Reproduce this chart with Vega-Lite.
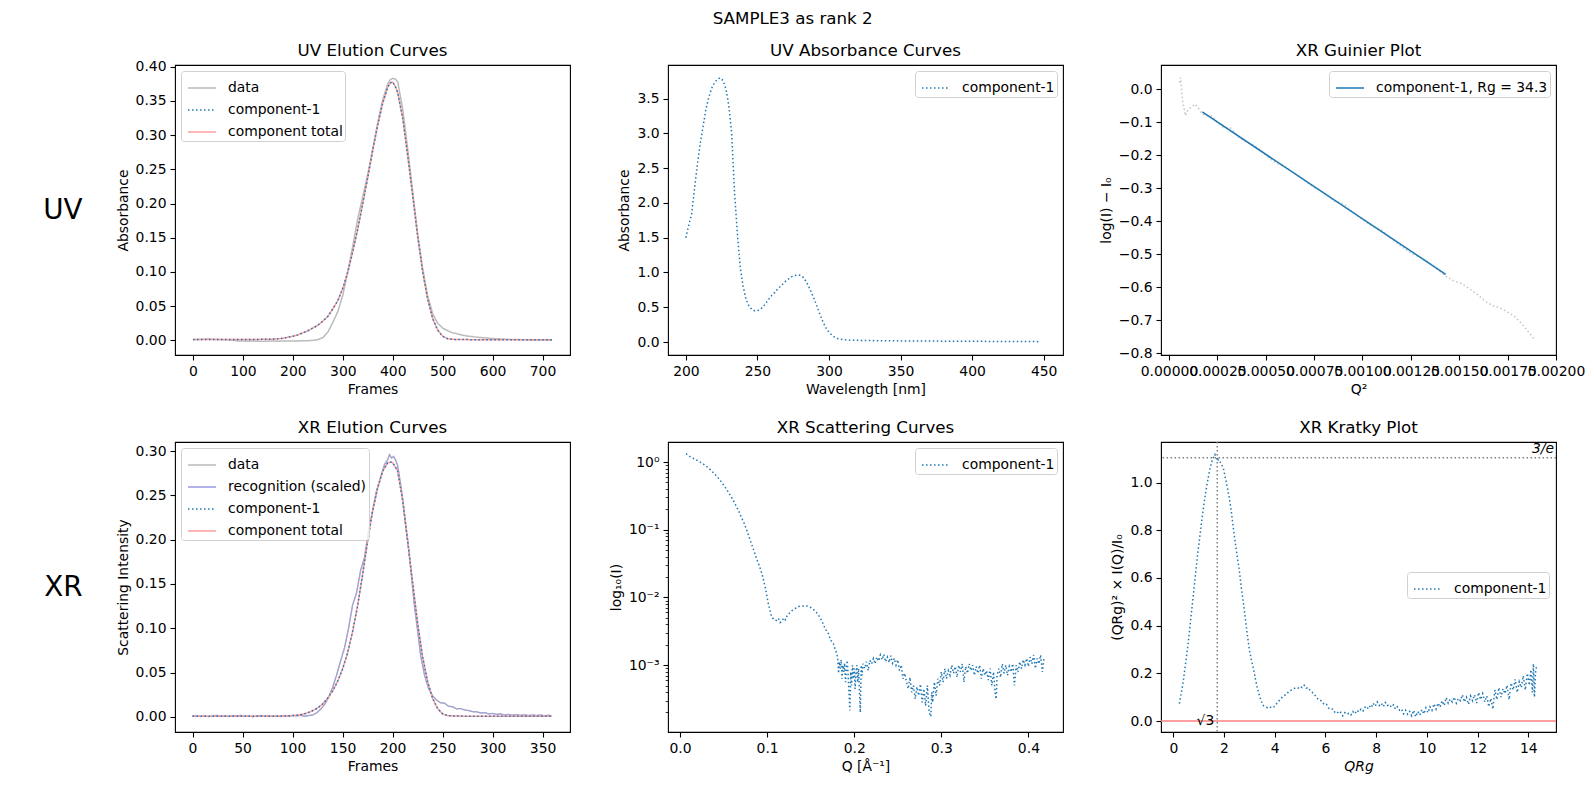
{
"$schema": "https://vega.github.io/schema/vega-lite/v6.json",
"padding": {"left": 42, "top": 10, "right": 5, "bottom": 5},
"title": {"text": "SAMPLE3 as rank 2", "offset": 15, "dx": -21, "anchor": "middle"},
"config": {
  "font": "DejaVu Sans",
  "view": {"stroke": "#000", "strokeWidth": 1.1},
  "axis": {"domain": false, "grid": false, "labelFont": "DejaVu Sans", "labelFontSize": 13.9, "labelColor": "#000", "tickColor": "#000", "tickSize": 5, "tickWidth": 1.1, "labelPadding": 4, "labelFlush": false, "labelOverlap": false, "titleFont": "DejaVu Sans", "titleFontSize": 13.9, "titleFontWeight": "normal", "titleColor": "#000", "titlePadding": 5},
  "legend": {"labelFont": "DejaVu Sans", "labelFontSize": 13.9, "labelColor": "#000", "labelLimit": 400, "strokeColor": "#d0d0d0", "fillColor": "rgba(255,255,255,0.8)", "padding": 2, "cornerRadius": 3, "offset": 6, "symbolType": "stroke", "symbolSize": 784, "symbolStrokeWidth": 1.5, "symbolOffset": 4, "labelOffset": 11, "rowPadding": -1.5},
  "title": {"font": "DejaVu Sans", "fontSize": 16.7, "fontWeight": "normal", "color": "#000"}
},
"datasets": {
  "uv_el": [
    {"f":0,"d":0.001,"c":0.0012,"t":0.0012},{"f":10,"d":0.0012,"c":0.0012,"t":0.0012},{"f":20,"d":0.0015,"c":0.0012,"t":0.0012},{"f":30,"d":0.002,"c":0.0012,"t":0.0012},{"f":40,"d":0.0015,"c":0.0012,"t":0.0012},{"f":50,"d":0.0012,"c":0.0012,"t":0.0012},{"f":60,"d":0.001,"c":0.0012,"t":0.0012},{"f":70,"d":0.0008,"c":0.0012,"t":0.0012},{"f":80,"d":0.0,"c":0.0012,"t":0.0012},{"f":90,"d":-0.0008,"c":0.0012,"t":0.0012},{"f":100,"d":-0.001,"c":0.0012,"t":0.0012},{"f":110,"d":-0.0012,"c":0.0013,"t":0.0013},{"f":120,"d":-0.001,"c":0.0013,"t":0.0013},{"f":130,"d":-0.0013,"c":0.0014,"t":0.0014},{"f":140,"d":-0.0015,"c":0.0015,"t":0.0015},{"f":150,"d":-0.0012,"c":0.0016,"t":0.0016},{"f":160,"d":-0.001,"c":0.0018,"t":0.0018},{"f":170,"d":-0.0012,"c":0.0022,"t":0.0022},{"f":180,"d":-0.0008,"c":0.003,"t":0.003},{"f":190,"d":-0.001,"c":0.0045,"t":0.0045},{"f":200,"d":-0.0008,"c":0.006,"t":0.006},{"f":210,"d":-0.001,"c":0.008,"t":0.008},{"f":220,"d":-0.0005,"c":0.011,"t":0.011},{"f":230,"d":-0.0005,"c":0.014,"t":0.014},{"f":240,"d":0.0,"c":0.018,"t":0.018},{"f":250,"d":0.001,"c":0.022,"t":0.022},{"f":260,"d":0.004,"c":0.028,"t":0.028},{"f":270,"d":0.012,"c":0.035,"t":0.035},{"f":280,"d":0.026,"c":0.046,"t":0.046},{"f":290,"d":0.042,"c":0.058,"t":0.058},{"f":300,"d":0.066,"c":0.076,"t":0.076},{"f":310,"d":0.1,"c":0.1,"t":0.1},{"f":320,"d":0.138,"c":0.13,"t":0.13},{"f":330,"d":0.178,"c":0.163,"t":0.163},{"f":340,"d":0.21,"c":0.2,"t":0.2},{"f":350,"d":0.243,"c":0.238,"t":0.238},{"f":360,"d":0.28,"c":0.278,"t":0.278},{"f":370,"d":0.318,"c":0.315,"t":0.315},{"f":380,"d":0.352,"c":0.347,"t":0.347},{"f":390,"d":0.375,"c":0.37,"t":0.37},{"f":395,"d":0.381,"c":0.3765,"t":0.3765},{"f":400,"d":0.383,"c":0.3775,"t":0.3775},{"f":405,"d":0.382,"c":0.3715,"t":0.3715},{"f":410,"d":0.378,"c":0.362,"t":0.362},{"f":420,"d":0.338,"c":0.325,"t":0.325},{"f":430,"d":0.28,"c":0.27,"t":0.27},{"f":440,"d":0.217,"c":0.212,"t":0.212},{"f":450,"d":0.155,"c":0.152,"t":0.152},{"f":460,"d":0.105,"c":0.1,"t":0.1},{"f":470,"d":0.065,"c":0.06,"t":0.06},{"f":480,"d":0.039,"c":0.032,"t":0.032},{"f":490,"d":0.025,"c":0.015,"t":0.015},{"f":500,"d":0.018,"c":0.006,"t":0.006},{"f":510,"d":0.014,"c":0.0025,"t":0.0025},{"f":520,"d":0.011,"c":0.0015,"t":0.0015},{"f":530,"d":0.0095,"c":0.0012,"t":0.0012},{"f":540,"d":0.0075,"c":0.0011,"t":0.0011},{"f":550,"d":0.0063,"c":0.0011,"t":0.0011},{"f":560,"d":0.0055,"c":0.001,"t":0.001},{"f":570,"d":0.0045,"c":0.001,"t":0.001},{"f":580,"d":0.0039,"c":0.001,"t":0.001},{"f":590,"d":0.0033,"c":0.001,"t":0.001},{"f":600,"d":0.0026,"c":0.001,"t":0.001},{"f":610,"d":0.0024,"c":0.001,"t":0.001},{"f":620,"d":0.002,"c":0.001,"t":0.001},{"f":630,"d":0.0016,"c":0.001,"t":0.001},{"f":640,"d":0.0012,"c":0.001,"t":0.001},{"f":650,"d":0.0012,"c":0.001,"t":0.001},{"f":660,"d":0.001,"c":0.001,"t":0.001},{"f":670,"d":0.0008,"c":0.001,"t":0.001},{"f":680,"d":0.0006,"c":0.001,"t":0.001},{"f":690,"d":0.0005,"c":0.001,"t":0.001},{"f":700,"d":0.0004,"c":0.001,"t":0.001},{"f":710,"d":0.0003,"c":0.001,"t":0.001},{"f":719,"d":0.0,"c":0.001,"t":0.001}
  ],
  "uv_abs": [
    {"w":200,"a":1.5},{"w":202,"a":1.68},{"w":204,"a":1.84},{"w":206,"a":2.2},{"w":208,"a":2.55},{"w":210,"a":2.85},{"w":212,"a":3.1},{"w":214,"a":3.35},{"w":216,"a":3.52},{"w":218,"a":3.65},{"w":220,"a":3.73},{"w":222,"a":3.78},{"w":224,"a":3.8},{"w":226,"a":3.76},{"w":228,"a":3.64},{"w":230,"a":3.4},{"w":232,"a":3.0},{"w":234,"a":2.15},{"w":236,"a":1.55},{"w":238,"a":1.07},{"w":240,"a":0.8},{"w":242,"a":0.62},{"w":244,"a":0.52},{"w":246,"a":0.47},{"w":248,"a":0.45},{"w":250,"a":0.45},{"w":252,"a":0.47},{"w":254,"a":0.51},{"w":256,"a":0.56},{"w":258,"a":0.62},{"w":260,"a":0.67},{"w":262,"a":0.71},{"w":264,"a":0.76},{"w":266,"a":0.8},{"w":268,"a":0.84},{"w":270,"a":0.88},{"w":272,"a":0.91},{"w":274,"a":0.94},{"w":276,"a":0.955},{"w":278,"a":0.965},{"w":280,"a":0.96},{"w":282,"a":0.93},{"w":284,"a":0.87},{"w":286,"a":0.79},{"w":288,"a":0.7},{"w":290,"a":0.6},{"w":292,"a":0.49},{"w":294,"a":0.38},{"w":296,"a":0.28},{"w":298,"a":0.2},{"w":300,"a":0.14},{"w":302,"a":0.1},{"w":304,"a":0.07},{"w":306,"a":0.05},{"w":308,"a":0.04},{"w":310,"a":0.033},{"w":314,"a":0.027},{"w":320,"a":0.024},{"w":330,"a":0.02},{"w":340,"a":0.018},{"w":350,"a":0.016},{"w":360,"a":0.015},{"w":370,"a":0.014},{"w":380,"a":0.012},{"w":390,"a":0.011},{"w":400,"a":0.01},{"w":410,"a":0.009},{"w":420,"a":0.008},{"w":430,"a":0.007},{"w":440,"a":0.006},{"w":448,"a":0.005}
  ],
  "guin_data": [
    {"q2":0.000055,"g":0.02},{"q2":0.00006,"g":0.035},{"q2":0.00007,"g":-0.035},{"q2":0.000085,"g":-0.08},{"q2":0.0001,"g":-0.06},{"q2":0.000115,"g":-0.055},{"q2":0.000133,"g":-0.045},{"q2":0.00015,"g":-0.055},{"q2":0.000167,"g":-0.072},{"q2":0.00019,"g":-0.08},{"q2":0.00022,"g":-0.08},{"q2":0.00025,"g":-0.1},{"q2":0.00028,"g":-0.115},{"q2":0.00032,"g":-0.118},{"q2":0.00036,"g":-0.145},{"q2":0.0004,"g":-0.16},{"q2":0.00044,"g":-0.17},{"q2":0.00048,"g":-0.187},{"q2":0.00052,"g":-0.21},{"q2":0.00056,"g":-0.225},{"q2":0.0006,"g":-0.235},{"q2":0.00065,"g":-0.255},{"q2":0.0007,"g":-0.276},{"q2":0.00075,"g":-0.297},{"q2":0.0008,"g":-0.313},{"q2":0.00085,"g":-0.337},{"q2":0.0009,"g":-0.347},{"q2":0.00095,"g":-0.372},{"q2":0.001,"g":-0.395},{"q2":0.00105,"g":-0.415},{"q2":0.0011,"g":-0.427},{"q2":0.00115,"g":-0.454},{"q2":0.0012,"g":-0.475},{"q2":0.00125,"g":-0.497},{"q2":0.0013,"g":-0.509},{"q2":0.00135,"g":-0.528},{"q2":0.0014,"g":-0.552},{"q2":0.00143,"g":-0.566},{"q2":0.00147,"g":-0.58},{"q2":0.00151,"g":-0.588},{"q2":0.00155,"g":-0.603},{"q2":0.00159,"g":-0.62},{"q2":0.00163,"g":-0.64},{"q2":0.00167,"g":-0.655},{"q2":0.00171,"g":-0.662},{"q2":0.00175,"g":-0.675},{"q2":0.00179,"g":-0.69},{"q2":0.00183,"g":-0.715},{"q2":0.00186,"g":-0.737},{"q2":0.00189,"g":-0.758}
  ],
  "guin_fit": [{"q2":0.000172,"g":-0.0687},{"q2":0.00143,"g":-0.5606}],
  "xr_rec": [
    {"f":0,"d":0.001,"r":0.001},{"f":4,"d":0.0014,"r":0.0014},{"f":8,"d":0.0006,"r":0.0006},{"f":12,"d":0.0012,"r":0.0012},{"f":16,"d":0.0004,"r":0.0004},{"f":20,"d":0.0011,"r":0.0011},{"f":24,"d":0.0017,"r":0.0017},{"f":28,"d":0.0008,"r":0.0008},{"f":32,"d":0.0013,"r":0.0013},{"f":36,"d":0.0005,"r":0.0005},{"f":40,"d":0.0015,"r":0.0015},{"f":44,"d":0.0009,"r":0.0009},{"f":48,"d":0.0018,"r":0.0018},{"f":52,"d":0.0007,"r":0.0007},{"f":56,"d":0.0012,"r":0.0012},{"f":60,"d":0.0003,"r":0.0003},{"f":64,"d":0.001,"r":0.001},{"f":68,"d":0.0016,"r":0.0016},{"f":72,"d":0.0008,"r":0.0008},{"f":76,"d":0.0013,"r":0.0013},{"f":80,"d":0.0006,"r":0.0006},{"f":84,"d":0.0011,"r":0.0011},{"f":88,"d":0.0004,"r":0.0004},{"f":92,"d":0.0014,"r":0.0014},{"f":96,"d":0.0009,"r":0.0009},{"f":100,"d":0.0016,"r":0.0016},{"f":104,"d":0.0012,"r":0.0012},{"f":108,"d":0.0018,"r":0.0018},{"f":112,"d":0.0008,"r":0.0008},{"f":116,"d":0.0015,"r":0.0015},{"f":120,"d":0.0022,"r":0.0022},{"f":124,"d":0.0045,"r":0.0045},{"f":128,"d":0.0085,"r":0.0085},{"f":132,"d":0.014,"r":0.014},{"f":136,"d":0.022,"r":0.022},{"f":140,"d":0.033,"r":0.033},{"f":144,"d":0.047,"r":0.047},{"f":148,"d":0.063,"r":0.063},{"f":152,"d":0.078,"r":0.078},{"f":156,"d":0.1,"r":0.1},{"f":160,"d":0.126,"r":0.126},{"f":164,"d":0.14,"r":0.14},{"f":168,"d":0.165,"r":0.165},{"f":172,"d":0.18,"r":0.18},{"f":176,"d":0.21,"r":0.21},{"f":180,"d":0.232,"r":0.232},{"f":184,"d":0.255,"r":0.255},{"f":188,"d":0.27,"r":0.27},{"f":192,"d":0.285,"r":0.285},{"f":195,"d":0.29,"r":0.29},{"f":197,"d":0.296,"r":0.296},{"f":199,"d":0.292,"r":0.292},{"f":201,"d":0.294,"r":0.294},{"f":203,"d":0.29,"r":0.29},{"f":205,"d":0.284,"r":0.284},{"f":207,"d":0.27,"r":0.27},{"f":209,"d":0.255,"r":0.255},{"f":211,"d":0.238,"r":0.238},{"f":213,"d":0.217,"r":0.217},{"f":216,"d":0.19,"r":0.19},{"f":219,"d":0.158,"r":0.158},{"f":222,"d":0.124,"r":0.124},{"f":225,"d":0.098,"r":0.098},{"f":228,"d":0.07,"r":0.07},{"f":232,"d":0.047,"r":0.047},{"f":236,"d":0.032,"r":0.032},{"f":240,"d":0.024,"r":0.024},{"f":244,"d":0.019,"r":0.019},{"f":248,"d":0.016,"r":0.016},{"f":252,"d":0.0155,"r":0.0155},{"f":256,"d":0.012,"r":0.012},{"f":260,"d":0.0115,"r":0.0115},{"f":264,"d":0.009,"r":0.009},{"f":268,"d":0.0095,"r":0.0095},{"f":272,"d":0.0078,"r":0.0078},{"f":276,"d":0.0072,"r":0.0072},{"f":280,"d":0.006,"r":0.006},{"f":284,"d":0.0058,"r":0.0058},{"f":288,"d":0.0045,"r":0.0045},{"f":292,"d":0.0048,"r":0.0048},{"f":296,"d":0.0035,"r":0.0035},{"f":300,"d":0.0038,"r":0.0038},{"f":304,"d":0.003,"r":0.003},{"f":308,"d":0.0033,"r":0.0033},{"f":312,"d":0.0022,"r":0.0022},{"f":316,"d":0.0028,"r":0.0028},{"f":320,"d":0.002,"r":0.002},{"f":324,"d":0.0026,"r":0.0026},{"f":328,"d":0.0018,"r":0.0018},{"f":332,"d":0.0024,"r":0.0024},{"f":336,"d":0.0015,"r":0.0015},{"f":340,"d":0.0022,"r":0.0022},{"f":344,"d":0.0017,"r":0.0017},{"f":348,"d":0.0021,"r":0.0021},{"f":352,"d":0.0014,"r":0.0014},{"f":356,"d":0.0019,"r":0.0019},{"f":359,"d":0.0012,"r":0.0012}
  ],
  "xr_comp": [
    {"f":0,"c":0.0008,"t":0.0008},{"f":20,"c":0.0008,"t":0.0008},{"f":40,"c":0.0008,"t":0.0008},{"f":60,"c":0.0008,"t":0.0008},{"f":80,"c":0.0008,"t":0.0008},{"f":90,"c":0.001,"t":0.001},{"f":100,"c":0.0015,"t":0.0015},{"f":105,"c":0.002,"t":0.002},{"f":110,"c":0.003,"t":0.003},{"f":115,"c":0.0045,"t":0.0045},{"f":120,"c":0.007,"t":0.007},{"f":125,"c":0.01,"t":0.01},{"f":130,"c":0.0145,"t":0.0145},{"f":135,"c":0.021,"t":0.021},{"f":140,"c":0.029,"t":0.029},{"f":145,"c":0.04,"t":0.04},{"f":150,"c":0.054,"t":0.054},{"f":155,"c":0.072,"t":0.072},{"f":160,"c":0.096,"t":0.096},{"f":165,"c":0.125,"t":0.125},{"f":170,"c":0.16,"t":0.16},{"f":175,"c":0.198,"t":0.198},{"f":180,"c":0.232,"t":0.232},{"f":185,"c":0.258,"t":0.258},{"f":190,"c":0.277,"t":0.277},{"f":195,"c":0.2865,"t":0.2865},{"f":198,"c":0.2875,"t":0.2875},{"f":200,"c":0.287,"t":0.287},{"f":205,"c":0.278,"t":0.278},{"f":210,"c":0.245,"t":0.245},{"f":215,"c":0.2,"t":0.2},{"f":220,"c":0.152,"t":0.152},{"f":225,"c":0.106,"t":0.106},{"f":230,"c":0.068,"t":0.068},{"f":235,"c":0.04,"t":0.04},{"f":240,"c":0.021,"t":0.021},{"f":245,"c":0.0095,"t":0.0095},{"f":250,"c":0.0035,"t":0.0035},{"f":255,"c":0.0015,"t":0.0015},{"f":260,"c":0.001,"t":0.001},{"f":280,"c":0.0008,"t":0.0008},{"f":300,"c":0.0008,"t":0.0008},{"f":320,"c":0.0008,"t":0.0008},{"f":340,"c":0.0008,"t":0.0008},{"f":359,"c":0.0008,"t":0.0008}
  ],
  "scat": [
    {"q":0.0069,"i":1.33},{"q":0.0105,"i":1.23},{"q":0.014,"i":1.156},{"q":0.0175,"i":1.096},{"q":0.021,"i":1.035},{"q":0.0245,"i":0.977},{"q":0.028,"i":0.912},{"q":0.0315,"i":0.841},{"q":0.035,"i":0.767},{"q":0.0385,"i":0.692},{"q":0.042,"i":0.622},{"q":0.0455,"i":0.55},{"q":0.049,"i":0.479},{"q":0.0525,"i":0.412},{"q":0.056,"i":0.351},{"q":0.0595,"i":0.295},{"q":0.063,"i":0.245},{"q":0.0665,"i":0.2},{"q":0.07,"i":0.158},{"q":0.0735,"i":0.126},{"q":0.077,"i":0.0955},{"q":0.0805,"i":0.0708},{"q":0.084,"i":0.0525},{"q":0.0875,"i":0.0389},{"q":0.091,"i":0.0295},{"q":0.0945,"i":0.0214},{"q":0.098,"i":0.0138},{"q":0.1015,"i":0.0079},{"q":0.105,"i":0.00525},{"q":0.108,"i":0.00468},{"q":0.111,"i":0.00457},{"q":0.113,"i":0.0049},{"q":0.115,"i":0.00427},{"q":0.117,"i":0.00447},{"q":0.119,"i":0.00501},{"q":0.121,"i":0.00468},{"q":0.123,"i":0.00537},{"q":0.125,"i":0.00575},{"q":0.128,"i":0.00631},{"q":0.131,"i":0.00676},{"q":0.134,"i":0.00708},{"q":0.137,"i":0.00741},{"q":0.14,"i":0.0075},{"q":0.143,"i":0.00741},{"q":0.146,"i":0.0075},{"q":0.149,"i":0.00724},{"q":0.152,"i":0.00684},{"q":0.155,"i":0.00631},{"q":0.158,"i":0.00575},{"q":0.161,"i":0.00501},{"q":0.164,"i":0.00417},{"q":0.167,"i":0.00339},{"q":0.17,"i":0.00302},{"q":0.172,"i":0.00251},{"q":0.174,"i":0.00224},{"q":0.176,"i":0.00209},{"q":0.178,"i":0.00174},{"q":0.18,"i":0.00148},
    {"q":0.181,"i":0.001259},{"q":0.182,"i":0.000759},{"q":0.183,"i":0.001122},{"q":0.184,"i":0.000891},{"q":0.185,"i":0.001202},{"q":0.186,"i":0.000631},{"q":0.187,"i":0.001},{"q":0.188,"i":0.000794},{"q":0.189,"i":0.001072},{"q":0.19,"i":0.000562},{"q":0.191,"i":0.000891},{"q":0.192,"i":0.001175},{"q":0.193,"i":0.000708},{"q":0.194,"i":0.000398},{"q":0.195,"i":0.000214},{"q":0.196,"i":0.000794},{"q":0.197,"i":0.000501},{"q":0.198,"i":0.001},{"q":0.199,"i":0.000631},{"q":0.2,"i":0.000891},{"q":0.201,"i":0.000447},{"q":0.202,"i":0.000794},{"q":0.203,"i":0.001},{"q":0.204,"i":0.000562},{"q":0.205,"i":0.000891},{"q":0.206,"i":0.000398},{"q":0.207,"i":0.0002},{"q":0.208,"i":0.001},{"q":0.209,"i":0.000708},{"q":0.21,"i":0.001047},{"q":0.212,"i":0.000891},{"q":0.214,"i":0.001122},{"q":0.216,"i":0.000832},{"q":0.218,"i":0.001175},{"q":0.22,"i":0.001047},{"q":0.222,"i":0.001259},{"q":0.224,"i":0.001047},{"q":0.226,"i":0.001318},{"q":0.228,"i":0.001148},{"q":0.23,"i":0.001413},{"q":0.232,"i":0.001202},{"q":0.234,"i":0.001445},{"q":0.236,"i":0.001122},{"q":0.238,"i":0.001318},{"q":0.24,"i":0.001096},{"q":0.242,"i":0.00138},{"q":0.244,"i":0.001072},{"q":0.246,"i":0.001259},{"q":0.248,"i":0.001},{"q":0.25,"i":0.001202},{"q":0.252,"i":0.000832},{"q":0.254,"i":0.001},{"q":0.256,"i":0.000631},{"q":0.258,"i":0.000759},{"q":0.26,"i":0.000562},{"q":0.262,"i":0.000447},{"q":0.264,"i":0.000661},{"q":0.266,"i":0.000398},{"q":0.268,"i":0.000501},{"q":0.27,"i":0.000316},{"q":0.272,"i":0.000479},{"q":0.274,"i":0.000355},{"q":0.276,"i":0.000525},{"q":0.278,"i":0.000282},{"q":0.28,"i":0.000447},{"q":0.282,"i":0.000251},{"q":0.284,"i":0.000501},{"q":0.286,"i":0.0002},{"q":0.288,"i":0.000174},{"q":0.289,"i":0.000398},{"q":0.29,"i":0.000282},{"q":0.292,"i":0.000562},{"q":0.294,"i":0.000355},{"q":0.296,"i":0.000631},{"q":0.298,"i":0.000501},{"q":0.3,"i":0.000794},{"q":0.302,"i":0.000562},{"q":0.304,"i":0.000891},{"q":0.306,"i":0.000631},{"q":0.308,"i":0.000832},{"q":0.31,"i":0.000708},{"q":0.312,"i":0.001},{"q":0.314,"i":0.000759},{"q":0.316,"i":0.000955},{"q":0.318,"i":0.000661},{"q":0.32,"i":0.001},{"q":0.322,"i":0.000794},{"q":0.324,"i":0.001047},{"q":0.326,"i":0.000562},{"q":0.328,"i":0.000955},{"q":0.33,"i":0.000759},{"q":0.332,"i":0.001047},{"q":0.334,"i":0.000832},{"q":0.336,"i":0.001},{"q":0.338,"i":0.000708},{"q":0.34,"i":0.000955},{"q":0.342,"i":0.000759},{"q":0.344,"i":0.001},{"q":0.346,"i":0.000631},{"q":0.348,"i":0.000891},{"q":0.35,"i":0.000708},{"q":0.352,"i":0.000832},{"q":0.354,"i":0.000603},{"q":0.356,"i":0.000891},{"q":0.358,"i":0.000501},{"q":0.36,"i":0.000794},{"q":0.362,"i":0.000355},{"q":0.363,"i":0.000316},{"q":0.364,"i":0.000708},{"q":0.366,"i":0.000891},{"q":0.368,"i":0.000661},{"q":0.37,"i":0.001047},{"q":0.372,"i":0.000759},{"q":0.374,"i":0.001},{"q":0.376,"i":0.000708},{"q":0.378,"i":0.000955},{"q":0.38,"i":0.000794},{"q":0.382,"i":0.001047},{"q":0.384,"i":0.000501},{"q":0.386,"i":0.001},{"q":0.388,"i":0.000794},{"q":0.39,"i":0.001122},{"q":0.392,"i":0.000891},{"q":0.394,"i":0.001202},{"q":0.396,"i":0.001},{"q":0.398,"i":0.001259},{"q":0.4,"i":0.000955},{"q":0.402,"i":0.001318},{"q":0.404,"i":0.001047},{"q":0.406,"i":0.001413},{"q":0.408,"i":0.000891},{"q":0.41,"i":0.001259},{"q":0.412,"i":0.001047},{"q":0.414,"i":0.001413},{"q":0.416,"i":0.000794},{"q":0.418,"i":0.001318}
  ],
  "kratky": [
    {"x":0.24,"k":0.073},{"x":0.31,"k":0.115},{"x":0.39,"k":0.164},{"x":0.47,"k":0.23},{"x":0.55,"k":0.295},{"x":0.63,"k":0.37},{"x":0.71,"k":0.45},{"x":0.79,"k":0.529},{"x":0.87,"k":0.61},{"x":0.95,"k":0.69},{"x":1.03,"k":0.76},{"x":1.11,"k":0.83},{"x":1.19,"k":0.895},{"x":1.27,"k":0.955},{"x":1.35,"k":1.005},{"x":1.43,"k":1.05},{"x":1.51,"k":1.085},{"x":1.58,"k":1.105},{"x":1.64,"k":1.118},{"x":1.7,"k":1.105},{"x":1.74,"k":1.09},{"x":1.77,"k":1.097},{"x":1.83,"k":1.09},{"x":1.9,"k":1.075},{"x":1.97,"k":1.062},{"x":2.05,"k":1.02},{"x":2.12,"k":0.985},{"x":2.2,"k":0.94},{"x":2.28,"k":0.885},{"x":2.36,"k":0.815},{"x":2.44,"k":0.75},{"x":2.52,"k":0.69},{"x":2.6,"k":0.635},{"x":2.68,"k":0.56},{"x":2.76,"k":0.5},{"x":2.84,"k":0.43},{"x":2.92,"k":0.36},{"x":3.0,"k":0.3},{"x":3.08,"k":0.255},{"x":3.16,"k":0.22},{"x":3.24,"k":0.175},{"x":3.32,"k":0.135},{"x":3.4,"k":0.105},{"x":3.48,"k":0.08},{"x":3.56,"k":0.064},{"x":3.64,"k":0.058},{"x":3.72,"k":0.056},{"x":3.8,"k":0.06},{"x":3.88,"k":0.055},{"x":3.96,"k":0.058},{"x":4.04,"k":0.068},{"x":4.12,"k":0.08},{"x":4.2,"k":0.088},{"x":4.28,"k":0.098},{"x":4.36,"k":0.105},{"x":4.44,"k":0.112},{"x":4.52,"k":0.12},{"x":4.6,"k":0.128},{"x":4.68,"k":0.13},{"x":4.76,"k":0.136},{"x":4.84,"k":0.14},{"x":4.92,"k":0.138},{"x":5.0,"k":0.145},{"x":5.08,"k":0.14},{"x":5.16,"k":0.15},{"x":5.24,"k":0.138},{"x":5.32,"k":0.14},{"x":5.4,"k":0.128},{"x":5.48,"k":0.12},{"x":5.56,"k":0.112},{"x":5.64,"k":0.1},{"x":5.72,"k":0.09},{"x":5.8,"k":0.088},{"x":5.88,"k":0.078},{"x":5.96,"k":0.068},{"x":6.04,"k":0.07},{"x":6.12,"k":0.055},{"x":6.2,"k":0.048},{"x":6.28,"k":0.05},{"x":6.36,"k":0.038},{"x":6.44,"k":0.042},{"x":6.52,"k":0.03},{"x":6.6,"k":0.036},{"x":6.68,"k":0.022},{"x":6.76,"k":0.035},{"x":6.84,"k":0.028},{"x":6.92,"k":0.032},{"x":7.0,"k":0.025},{"x":7.08,"k":0.04},{"x":7.16,"k":0.03},{"x":7.24,"k":0.045},{"x":7.32,"k":0.038},{"x":7.4,"k":0.05},{"x":7.48,"k":0.042},{"x":7.56,"k":0.058},{"x":7.64,"k":0.05},{"x":7.72,"k":0.065},{"x":7.8,"k":0.055},{"x":7.88,"k":0.075},{"x":7.96,"k":0.062},{"x":8.04,"k":0.08},{"x":8.12,"k":0.065},{"x":8.2,"k":0.075},{"x":8.28,"k":0.06},{"x":8.36,"k":0.078},{"x":8.44,"k":0.065},{"x":8.52,"k":0.07},{"x":8.6,"k":0.058},{"x":8.68,"k":0.068},{"x":8.76,"k":0.05},{"x":8.84,"k":0.06},{"x":8.92,"k":0.045},{"x":9.0,"k":0.05},{"x":9.08,"k":0.03},{"x":9.16,"k":0.045},{"x":9.24,"k":0.028},{"x":9.32,"k":0.04},{"x":9.4,"k":0.022},{"x":9.48,"k":0.045},{"x":9.56,"k":0.018},{"x":9.64,"k":0.04},{"x":9.72,"k":0.025},{"x":9.8,"k":0.048},{"x":9.88,"k":0.03},{"x":9.96,"k":0.055},{"x":10.04,"k":0.035},{"x":10.12,"k":0.06},{"x":10.2,"k":0.045},{"x":10.28,"k":0.072},{"x":10.36,"k":0.05},{"x":10.44,"k":0.075},{"x":10.52,"k":0.058},{"x":10.6,"k":0.085},{"x":10.68,"k":0.065},{"x":10.76,"k":0.098},{"x":10.84,"k":0.075},{"x":10.92,"k":0.092},{"x":11.0,"k":0.08},{"x":11.08,"k":0.1},{"x":11.16,"k":0.075},{"x":11.24,"k":0.095},{"x":11.32,"k":0.085},{"x":11.4,"k":0.11},{"x":11.48,"k":0.08},{"x":11.56,"k":0.1},{"x":11.64,"k":0.07},{"x":11.72,"k":0.105},{"x":11.8,"k":0.085},{"x":11.88,"k":0.11},{"x":11.96,"k":0.075},{"x":12.04,"k":0.12},{"x":12.12,"k":0.09},{"x":12.2,"k":0.115},{"x":12.28,"k":0.08},{"x":12.36,"k":0.105},{"x":12.44,"k":0.06},{"x":12.52,"k":0.095},{"x":12.6,"k":0.05},{"x":12.68,"k":0.13},{"x":12.76,"k":0.09},{"x":12.84,"k":0.14},{"x":12.92,"k":0.1},{"x":13.0,"k":0.135},{"x":13.08,"k":0.115},{"x":13.16,"k":0.15},{"x":13.24,"k":0.09},{"x":13.32,"k":0.16},{"x":13.4,"k":0.13},{"x":13.48,"k":0.175},{"x":13.56,"k":0.12},{"x":13.64,"k":0.165},{"x":13.72,"k":0.14},{"x":13.8,"k":0.19},{"x":13.88,"k":0.13},{"x":13.96,"k":0.2},{"x":14.04,"k":0.15},{"x":14.1,"k":0.215},{"x":14.16,"k":0.12},{"x":14.2,"k":0.24},{"x":14.24,"k":0.1},{"x":14.28,"k":0.2},{"x":14.32,"k":0.23}
  ]
},
"columns": 3,
"spacing": {"row": 87, "column": 98},
"bounds": "flush",
"resolve": {"scale": {"color": "independent", "strokeDash": "independent"}, "legend": {"color": "independent", "strokeDash": "independent"}},
"concat": [
  {
    "width": 395, "height": 290,
    "title": {"text": "UV Elution Curves", "offset": 0},
    "data": {"name": "uv_el"},
    "resolve": {"axis": {"y": "independent"}},
    "encoding": {
      "x": {"field": "f", "type": "quantitative", "scale": {"domain": [-36, 755], "nice": false, "zero": false}, "axis": {"title": "Frames", "values": [0,100,200,300,400,500,600,700]}}
    },
    "layer": [
      {"mark": {"type": "line", "strokeWidth": 1.5},
       "encoding": {
         "y": {"field": "d", "type": "quantitative", "scale": {"domain": [-0.0214, 0.4025], "nice": false, "zero": false}, "axis": {"title": "Absorbance", "values": [0,0.05,0.1,0.15,0.2,0.25,0.3,0.35,0.4], "format": ".2f"}},
         "color": {"datum": "data", "type": "nominal", "scale": {"domain": ["data","component-1","component total"], "range": ["#bbbbbb","#1f77b4","#ff9f9f"]}, "legend": {"title": null, "orient": "top-left"}},
         "strokeDash": {"datum": "data", "type": "nominal", "scale": {"domain": ["data","component-1","component total"], "range": [[1,0],[1.5,2.5],[1,0]]}, "legend": {"title": null, "orient": "top-left"}}
       }},
      {"mark": {"type": "line", "strokeWidth": 1.5},
       "encoding": {
         "y": {"field": "t", "type": "quantitative", "scale": {"domain": [-0.0214, 0.4025], "nice": false, "zero": false}, "axis": null},
         "color": {"datum": "component total", "type": "nominal", "scale": {"domain": ["data","component-1","component total"], "range": ["#bbbbbb","#1f77b4","#ff9f9f"]}, "legend": {"title": null, "orient": "top-left"}},
         "strokeDash": {"datum": "component total", "type": "nominal", "scale": {"domain": ["data","component-1","component total"], "range": [[1,0],[1.5,2.5],[1,0]]}, "legend": {"title": null, "orient": "top-left"}}
       }},
      {"mark": {"type": "line", "strokeWidth": 1.5},
       "encoding": {
         "y": {"field": "c", "type": "quantitative", "scale": {"domain": [-0.0214, 0.4025], "nice": false, "zero": false}, "axis": {"orient": "left", "title": "UV", "titleAngle": 0, "titleFontSize": 27.8, "titleAlign": "right", "titleBaseline": "middle", "labels": false, "ticks": false, "domain": false, "offset": 93, "titlePadding": 0}},
         "color": {"datum": "component-1", "type": "nominal", "scale": {"domain": ["data","component-1","component total"], "range": ["#bbbbbb","#1f77b4","#ff9f9f"]}, "legend": {"title": null, "orient": "top-left"}},
         "strokeDash": {"datum": "component-1", "type": "nominal", "scale": {"domain": ["data","component-1","component total"], "range": [[1,0],[1.5,2.5],[1,0]]}, "legend": {"title": null, "orient": "top-left"}}
       }}
    ]
  },
  {
    "width": 395, "height": 290,
    "title": {"text": "UV Absorbance Curves", "offset": 5},
    "data": {"name": "uv_abs"},
    "mark": {"type": "line", "strokeWidth": 1.5},
    "encoding": {
      "x": {"field": "w", "type": "quantitative", "scale": {"domain": [187.5, 463.5], "nice": false, "zero": false}, "axis": {"title": "Wavelength [nm]", "values": [200,250,300,350,400,450]}},
      "y": {"field": "a", "type": "quantitative", "scale": {"domain": [-0.187, 3.985], "nice": false, "zero": false}, "axis": {"title": "Absorbance", "values": [0,0.5,1,1.5,2,2.5,3,3.5], "format": ".1f"}},
      "color": {"datum": "component-1", "type": "nominal", "scale": {"domain": ["component-1"], "range": ["#1f77b4"]}, "legend": {"title": null, "orient": "top-right"}},
      "strokeDash": {"datum": "component-1", "type": "nominal", "scale": {"domain": ["component-1"], "range": [[1.5,2.5]]}, "legend": {"title": null, "orient": "top-right"}}
    }
  },
  {
    "width": 395, "height": 290,
    "title": {"text": "XR Guinier Plot", "offset": 5},
    "encoding": {
      "x": {"field": "q2", "type": "quantitative", "scale": {"domain": [-0.0000413, 0.002], "nice": false, "zero": false}, "axis": {"title": "Q²", "values": [0,0.00025,0.0005,0.00075,0.001,0.00125,0.0015,0.00175,0.002], "format": ".5f"}},
      "y": {"field": "g", "type": "quantitative", "scale": {"domain": [-0.805, 0.0736], "nice": false, "zero": false}, "axis": {"title": "log(I) − I₀", "values": [-0.8,-0.7,-0.6,-0.5,-0.4,-0.3,-0.2,-0.1,0], "format": ".1f"}}
    },
    "layer": [
      {"data": {"name": "guin_data"}, "mark": {"type": "line", "strokeWidth": 1.5, "color": "#c4c4c4", "strokeDash": [1.5, 2.5]}},
      {"data": {"name": "guin_fit"}, "mark": {"type": "line", "strokeWidth": 1.5},
       "encoding": {
         "color": {"datum": "component-1, Rg = 34.3", "type": "nominal", "scale": {"domain": ["component-1, Rg = 34.3"], "range": ["#1f77b4"]}, "legend": {"title": null, "orient": "top-right"}}
       }}
    ]
  },
  {
    "width": 395, "height": 290,
    "title": {"text": "XR Elution Curves", "offset": 5},
    "resolve": {"axis": {"y": "independent"}},
    "encoding": {
      "x": {"field": "f", "type": "quantitative", "scale": {"domain": [-17.5, 377.4], "nice": false, "zero": false}, "axis": {"title": "Frames", "values": [0,50,100,150,200,250,300,350]}}
    },
    "layer": [
      {"data": {"name": "xr_rec"}, "mark": {"type": "line", "strokeWidth": 1.5},
       "encoding": {
         "y": {"field": "d", "type": "quantitative", "scale": {"domain": [-0.017, 0.3102], "nice": false, "zero": false}, "axis": {"title": "Scattering Intensity", "values": [0,0.05,0.1,0.15,0.2,0.25,0.3], "format": ".2f"}},
         "color": {"datum": "data", "type": "nominal", "scale": {"domain": ["data","recognition (scaled)","component-1","component total"], "range": ["#bbbbbb","#9b9be6","#1f77b4","#ff9f9f"]}, "legend": {"title": null, "orient": "top-left"}},
         "strokeDash": {"datum": "data", "type": "nominal", "scale": {"domain": ["data","recognition (scaled)","component-1","component total"], "range": [[1,0],[1,0],[1.5,2.5],[1,0]]}, "legend": {"title": null, "orient": "top-left"}}
       }},
      {"data": {"name": "xr_rec"}, "mark": {"type": "line", "strokeWidth": 1},
       "encoding": {
         "y": {"field": "r", "type": "quantitative", "scale": {"domain": [-0.017, 0.3102], "nice": false, "zero": false}, "axis": null},
         "color": {"datum": "recognition (scaled)", "type": "nominal", "scale": {"domain": ["data","recognition (scaled)","component-1","component total"], "range": ["#bbbbbb","#9b9be6","#1f77b4","#ff9f9f"]}, "legend": {"title": null, "orient": "top-left"}},
         "strokeDash": {"datum": "recognition (scaled)", "type": "nominal", "scale": {"domain": ["data","recognition (scaled)","component-1","component total"], "range": [[1,0],[1,0],[1.5,2.5],[1,0]]}, "legend": {"title": null, "orient": "top-left"}}
       }},
      {"data": {"name": "xr_comp"}, "mark": {"type": "line", "strokeWidth": 1.5},
       "encoding": {
         "y": {"field": "t", "type": "quantitative", "scale": {"domain": [-0.017, 0.3102], "nice": false, "zero": false}, "axis": null},
         "color": {"datum": "component total", "type": "nominal", "scale": {"domain": ["data","recognition (scaled)","component-1","component total"], "range": ["#bbbbbb","#9b9be6","#1f77b4","#ff9f9f"]}, "legend": {"title": null, "orient": "top-left"}},
         "strokeDash": {"datum": "component total", "type": "nominal", "scale": {"domain": ["data","recognition (scaled)","component-1","component total"], "range": [[1,0],[1,0],[1.5,2.5],[1,0]]}, "legend": {"title": null, "orient": "top-left"}}
       }},
      {"data": {"name": "xr_comp"}, "mark": {"type": "line", "strokeWidth": 1.5},
       "encoding": {
         "y": {"field": "c", "type": "quantitative", "scale": {"domain": [-0.017, 0.3102], "nice": false, "zero": false}, "axis": {"orient": "left", "title": "XR", "titleAngle": 0, "titleFontSize": 27.8, "titleAlign": "right", "titleBaseline": "middle", "labels": false, "ticks": false, "domain": false, "offset": 93, "titlePadding": 0}},
         "color": {"datum": "component-1", "type": "nominal", "scale": {"domain": ["data","recognition (scaled)","component-1","component total"], "range": ["#bbbbbb","#9b9be6","#1f77b4","#ff9f9f"]}, "legend": {"title": null, "orient": "top-left"}},
         "strokeDash": {"datum": "component-1", "type": "nominal", "scale": {"domain": ["data","recognition (scaled)","component-1","component total"], "range": [[1,0],[1,0],[1.5,2.5],[1,0]]}, "legend": {"title": null, "orient": "top-left"}}
       }}
    ]
  },
  {
    "width": 395, "height": 290,
    "title": {"text": "XR Scattering Curves", "offset": 5},
    "data": {"name": "scat"},
    "resolve": {"axis": {"y": "independent"}},
    "encoding": {
      "x": {"field": "q", "type": "quantitative", "scale": {"domain": [-0.0138, 0.4397], "nice": false, "zero": false}, "axis": {"title": "Q [Å⁻¹]", "values": [0,0.1,0.2,0.3,0.4], "format": ".1f"}}
    },
    "layer": [
      {"mark": {"type": "line", "strokeWidth": 1.5},
       "encoding": {
         "y": {"field": "i", "type": "quantitative", "scale": {"type": "log", "domain": [0.000103, 1.98], "nice": false}, "axis": {"title": "log₁₀(I)", "values": [0.001, 0.01, 0.1, 1], "labelExpr": "datum.value > 0.5 ? '10⁰' : datum.value > 0.05 ? '10⁻¹' : datum.value > 0.005 ? '10⁻²' : '10⁻³'"}},
         "color": {"datum": "component-1", "type": "nominal", "scale": {"domain": ["component-1"], "range": ["#1f77b4"]}, "legend": {"title": null, "orient": "top-right"}},
         "strokeDash": {"datum": "component-1", "type": "nominal", "scale": {"domain": ["component-1"], "range": [[1.5,2.5]]}, "legend": {"title": null, "orient": "top-right"}}
       }},
      {"mark": {"type": "line", "opacity": 0},
       "encoding": {
         "y": {"field": "i", "type": "quantitative", "scale": {"type": "log", "domain": [0.000103, 1.98], "nice": false}, "axis": {"orient": "left", "title": null, "labels": false, "domain": false, "tickSize": 2.8, "tickWidth": 0.8, "values": [0.0002,0.0003,0.0004,0.0005,0.0006,0.0007,0.0008,0.0009,0.002,0.003,0.004,0.005,0.006,0.007,0.008,0.009,0.02,0.03,0.04,0.05,0.06,0.07,0.08,0.09,0.2,0.3,0.4,0.5,0.6,0.7,0.8,0.9]}}
       }}
    ]
  },
  {
    "width": 395, "height": 290,
    "title": {"text": "XR Kratky Plot", "offset": 5},
    "layer": [
      {"data": {"name": "kratky"}, "mark": {"type": "line", "strokeWidth": 1.5},
       "encoding": {
         "x": {"field": "x", "type": "quantitative", "scale": {"domain": [-0.485, 15.09], "nice": false, "zero": false}, "axis": {"title": "QRg", "titleFontStyle": "italic", "values": [0,2,4,6,8,10,12,14]}},
         "y": {"field": "k", "type": "quantitative", "scale": {"domain": [-0.046, 1.17], "nice": false, "zero": false}, "axis": {"title": "(QRg)² × I(Q)/I₀", "values": [0,0.2,0.4,0.6,0.8,1.0], "format": ".1f"}},
         "color": {"datum": "component-1", "type": "nominal", "scale": {"domain": ["component-1"], "range": ["#1f77b4"]}, "legend": {"title": null, "orient": "none", "legendX": 246, "legendY": 130}},
         "strokeDash": {"datum": "component-1", "type": "nominal", "scale": {"domain": ["component-1"], "range": [[1.5,2.5]]}, "legend": {"title": null, "orient": "none", "legendX": 246, "legendY": 130}}
       }},
      {"data": {"values": [{"k": 0}]}, "mark": {"type": "rule", "color": "#ff8080", "strokeWidth": 1.5},
       "encoding": {"y": {"field": "k", "type": "quantitative", "scale": {"domain": [-0.046, 1.17], "nice": false, "zero": false}}}},
      {"data": {"values": [{"x": 1.7321}]}, "mark": {"type": "rule", "color": "#808080", "strokeWidth": 1.5, "strokeDash": [1.5, 2.5]},
       "encoding": {"x": {"field": "x", "type": "quantitative", "scale": {"domain": [-0.485, 15.09], "nice": false, "zero": false}}}},
      {"data": {"values": [{"k": 1.1036}]}, "mark": {"type": "rule", "color": "#808080", "strokeWidth": 1.5, "strokeDash": [1.5, 2.5]},
       "encoding": {"y": {"field": "k", "type": "quantitative", "scale": {"domain": [-0.046, 1.17], "nice": false, "zero": false}}}},
      {"data": {"values": [{"x": 15.09, "k": 1.1036, "lab": "3/e"}]}, "mark": {"type": "text", "align": "right", "baseline": "bottom", "dx": -2, "dy": -2, "fontSize": 13.9, "fontStyle": "italic", "color": "#000"},
       "encoding": {
         "x": {"field": "x", "type": "quantitative", "scale": {"domain": [-0.485, 15.09], "nice": false, "zero": false}},
         "y": {"field": "k", "type": "quantitative", "scale": {"domain": [-0.046, 1.17], "nice": false, "zero": false}},
         "text": {"field": "lab"}
       }},
      {"data": {"values": [{"x": 1.7321, "k": 0, "lab": "√3"}]}, "mark": {"type": "text", "align": "right", "baseline": "middle", "dx": -3, "dy": 0, "fontSize": 13.9, "color": "#000"},
       "encoding": {
         "x": {"field": "x", "type": "quantitative", "scale": {"domain": [-0.485, 15.09], "nice": false, "zero": false}},
         "y": {"field": "k", "type": "quantitative", "scale": {"domain": [-0.046, 1.17], "nice": false, "zero": false}},
         "text": {"field": "lab"}
       }}
    ]
  }
]
}
